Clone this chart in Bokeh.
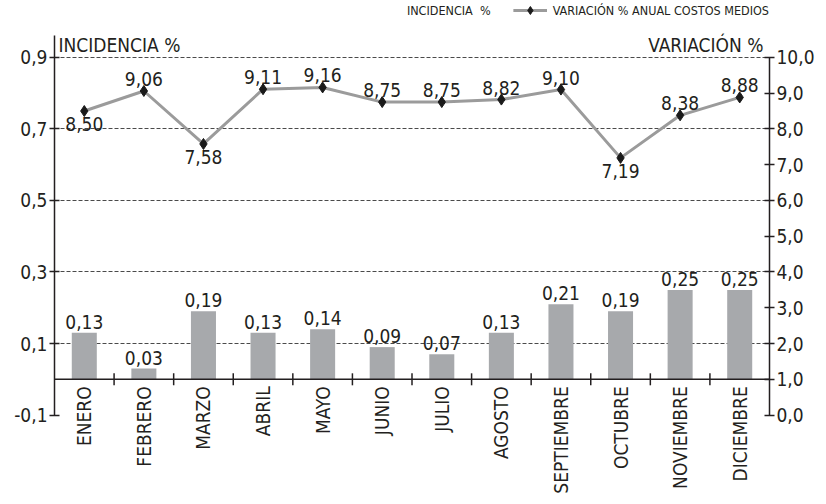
import math
from bokeh.plotting import figure
from bokeh.models import (Range1d, LinearAxis, FixedTicker, CustomJSTickFormatter,
                          ColumnDataSource, Label, LabelSet, Legend, LegendItem, Span)
from bokeh.core.properties import value
from bokeh.embed import file_html
from bokeh.resources import INLINE

months = ["ENERO", "FEBRERO", "MARZO", "ABRIL", "MAYO", "JUNIO", "JULIO",
          "AGOSTO", "SEPTIEMBRE", "OCTUBRE", "NOVIEMBRE", "DICIEMBRE"]
incidencia = [0.13, 0.03, 0.19, 0.13, 0.14, 0.09, 0.07, 0.13, 0.21, 0.19, 0.25, 0.25]
variacion = [8.50, 9.06, 7.58, 9.11, 9.16, 8.75, 8.75, 8.82, 9.10, 7.19, 8.38, 8.88]
left_ticks = [-0.1, 0.1, 0.3, 0.5, 0.7, 0.9]
right_ticks = [0, 1, 2, 3, 4, 5, 6, 7, 8, 9, 10]
below_labels = {0, 2, 9}

FONTS = "DejaVu Sans Condensed"
FONT = value(FONTS)
TXT = "#231f20"

# left scale shown as axis -0.1 .. 0.96; frame extended above/below for legend & labels
L_LO, L_HI = -0.350, 1.059
R_LO, R_HI = (L_LO + 0.1) * 10, (L_HI + 0.1) * 10

x = list(range(len(months)))
src = ColumnDataSource(dict(
    x=x, inc=incidencia, var=variacion, month=months,
    inc_lbl=[f"{v:.2f}".replace(".", ",") for v in incidencia],
    var_lbl=[f"{v:.2f}".replace(".", ",") for v in variacion],
    var_off=[-6 if i in below_labels else 5 for i in x],
    var_base=["top" if i in below_labels else "bottom" for i in x],
))
bsrc = ColumnDataSource(dict(b=[i + 0.5 for i in x[:-1]], z=[0] * (len(x) - 1)))

p = figure(width=826, height=504, output_backend="svg", toolbar_location=None,
           x_range=Range1d(-0.5, 11.5), y_range=Range1d(L_LO, L_HI),
           x_axis_location=None, y_axis_location=None,
           min_border_left=54, min_border_right=57, min_border_bottom=0, min_border_top=0,
           background_fill_color="white", border_fill_color="white")
p.outline_line_color = None
p.xgrid.visible = False
p.ygrid.ticker = FixedTicker(ticks=[0.1, 0.3, 0.5, 0.7, 0.9])
p.ygrid.grid_line_color = "#4a4a4a"
p.ygrid.grid_line_dash = "4 2"
p.ygrid.grid_line_width = 1

p.extra_y_ranges = {"right": Range1d(R_LO, R_HI)}

fmt1 = CustomJSTickFormatter(code="return tick.toFixed(1).replace('.', ',');")

ly = LinearAxis(ticker=FixedTicker(ticks=left_ticks), formatter=fmt1, bounds=(-0.1, 0.96))
ry = LinearAxis(y_range_name="right", ticker=FixedTicker(ticks=right_ticks), formatter=fmt1,
                bounds=(0, 10))
for ax in (ly, ry):
    ax.axis_line_color = TXT
    ax.axis_line_width = 1.5
    ax.major_tick_line_color = TXT
    ax.major_tick_line_width = 1.5
    ax.major_tick_in = 5
    ax.major_tick_out = 5
    ax.minor_tick_line_color = None
    ax.major_label_text_font = FONTS
    ax.major_label_text_font_size = "19px"
    ax.major_label_text_color = TXT
    ax.major_label_standoff = 2
p.add_layout(ly, "left")
p.add_layout(ry, "right")

bars = p.vbar(x="x", top="inc", bottom=0, width=0.42, source=src,
              fill_color="#a7a9ac", line_color=None)

# category axis line at zero with ticks between categories
p.add_layout(Span(location=0, dimension="width", line_color=TXT, line_width=1.5))
p.scatter(x="b", y="z", source=bsrc, marker="dash", angle=math.pi / 2, size=12,
          line_color=TXT, line_width=1.5)
p.text(x="x", y=0, text="month", source=src, angle=math.pi / 2, y_offset=7,
       text_align="right", text_baseline="middle",
       text_font=FONT, text_font_size="19px", text_color=TXT)

line = p.line(x="x", y="var", source=src, y_range_name="right",
              line_color="#9b9b9b", line_width=3)
pts = p.scatter(x="x", y="var", source=src, y_range_name="right",
                marker="diamond", size=11, fill_color="#1a1a1a", line_color="#1a1a1a")

p.add_layout(LabelSet(x="x", y="inc", text="inc_lbl", source=src, y_offset=4,
                      text_align="center", text_baseline="bottom",
                      text_font=FONT, text_font_size="19px", text_color=TXT))
p.add_layout(LabelSet(x="x", y="var", text="var_lbl", source=src, y_range_name="right",
                      y_offset="var_off", text_align="center", text_baseline="var_base",
                      text_font=FONT, text_font_size="19px", text_color=TXT))

p.add_layout(Label(x=-0.5, y=0.9, x_offset=4, y_offset=1, text="INCIDENCIA %",
                   text_font=FONTS, text_font_size="19px", text_color=TXT,
                   text_baseline="bottom"))
p.add_layout(Label(x=11.5, y=0.9, x_offset=-6, y_offset=1, text="VARIACIÓN %",
                   text_font=FONTS, text_font_size="19px", text_color=TXT,
                   text_align="right", text_baseline="bottom"))

dummy = p.scatter(x=[0], y=[0], size=0, alpha=0)
legend = Legend(items=[LegendItem(label="INCIDENCIA  %", renderers=[dummy]),
                       LegendItem(label="VARIACIÓN % ANUAL COSTOS MEDIOS", renderers=[line, pts])],
                orientation="horizontal", location="top_right",
                label_text_font=FONTS, label_text_font_size="12.5px", label_text_color=TXT,
                glyph_width=34, glyph_height=20, label_height=20, spacing=22, padding=6, margin=0,
                label_standoff=6, border_line_color=None, background_fill_alpha=0)
p.add_layout(legend)

open("out.html", "w").write(file_html(p, INLINE))
